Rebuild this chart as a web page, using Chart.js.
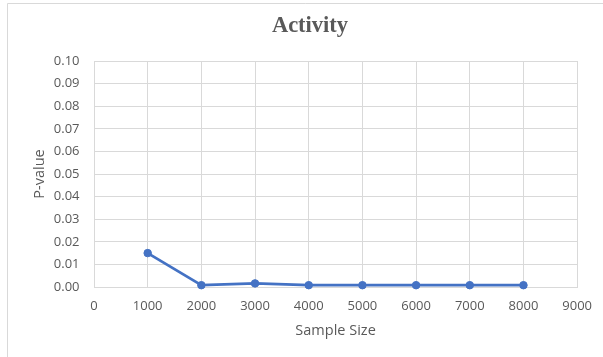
<!DOCTYPE html>
<html>
<head>
<meta charset="utf-8">
<script src="https://cdn.jsdelivr.net/npm/chart.js@4.4.0/dist/chart.umd.min.js"></script>
<style>
  html, body { margin: 0; padding: 0; background: #ffffff; }
  #wrap { width: 603px; height: 357px; position: relative; }
</style>
</head>
<body>
<div id="wrap"><canvas id="c" width="603" height="357"></canvas></div>
<script>
const chartTitle = 'Activity';
const xAxisTitle = 'Sample Size';
const yAxisTitle = 'P-value';
const sampleSizes = [1000, 2000, 3000, 4000, 5000, 6000, 7000, 8000];
const pValues = [0.015, 0.0008, 0.0016, 0.0008, 0.0008, 0.0008, 0.0008, 0.0008];
const xMin = 0, xMax = 9000, xStep = 1000;
const yMin = 0, yMax = 0.10, yStep = 0.01;

const textColor = '#595959';
const gridColor = '#d9d9d9';
const lineColor = '#4472C4';

const frame = {
  id: 'frame',
  beforeDraw(chart) {
    const ctx = chart.ctx;
    ctx.save();
    ctx.fillStyle = '#ffffff';
    ctx.fillRect(0, 0, chart.width, chart.height);
    ctx.strokeStyle = gridColor;
    ctx.lineWidth = 1;
    ctx.beginPath();
    ctx.moveTo(7.5, chart.height);
    ctx.lineTo(7.5, 3.5);
    ctx.lineTo(chart.width, 3.5);
    ctx.stroke();
    ctx.restore();
  }
};

new Chart(document.getElementById('c'), {
  type: 'scatter',
  data: {
    datasets: [{
      data: sampleSizes.map((x, i) => ({ x: x, y: pValues[i] })),
      showLine: true,
      borderColor: lineColor,
      backgroundColor: lineColor,
      borderWidth: 2.75,
      pointRadius: 3.75,
      pointBorderWidth: 1,
      pointBorderColor: lineColor,
      pointBackgroundColor: lineColor,
      tension: 0,
      clip: false
    }]
  },
  options: {
    responsive: false,
    animation: false,
    devicePixelRatio: 1,
    layout: { padding: { left: 17, right: 0, top: 0, bottom: 0 } },
    plugins: {
      legend: { display: false },
      tooltip: { enabled: false },
      title: {
        display: true,
        text: chartTitle,
        color: textColor,
        font: { family: "'Liberation Serif', 'Times New Roman', serif", size: 22.5, weight: 'bold', lineHeight: 1.2 },
        padding: { top: 13, bottom: 21 }
      }
    },
    scales: {
      x: {
        type: 'linear',
        position: 'bottom',
        min: xMin,
        max: xMax,
        grid: { color: gridColor, lineWidth: 1, drawTicks: false },
        border: { color: gridColor, width: 1 },
        ticks: {
          stepSize: xStep,
          color: textColor,
          padding: 11,
          maxRotation: 0,
          font: { family: "'Open Sans', sans-serif", size: 13 },
          callback: v => String(v)
        },
        title: {
          display: true,
          text: xAxisTitle,
          color: textColor,
          font: { family: "'Open Sans', sans-serif", size: 14.5, lineHeight: 1.2 },
          padding: { top: 0, bottom: 17.8 }
        },
        afterFit: s => { s.height = 70; }
      },
      y: {
        type: 'linear',
        position: 'left',
        min: yMin,
        max: yMax,
        grid: { color: gridColor, lineWidth: 1, drawTicks: false },
        border: { color: gridColor, width: 1 },
        ticks: {
          stepSize: yStep,
          color: textColor,
          padding: 14.5,
          font: { family: "'Open Sans', sans-serif", size: 13 },
          callback: v => Number(v).toFixed(2)
        },
        title: {
          display: true,
          text: yAxisTitle,
          color: textColor,
          font: { family: "'Open Sans', sans-serif", size: 14.5, lineHeight: 1.2 },
          padding: { top: 13.8, bottom: 0 }
        },
        afterFit: s => { s.width = 77; }
      },
      yRight: {
        type: 'linear',
        axis: 'y',
        position: 'right',
        display: true,
        grid: { display: false, drawTicks: false },
        border: { display: false },
        ticks: { display: false },
        afterFit: s => { s.width = 23; }
      }
    }
  },
  plugins: [frame]
});
</script>
</body>
</html>
